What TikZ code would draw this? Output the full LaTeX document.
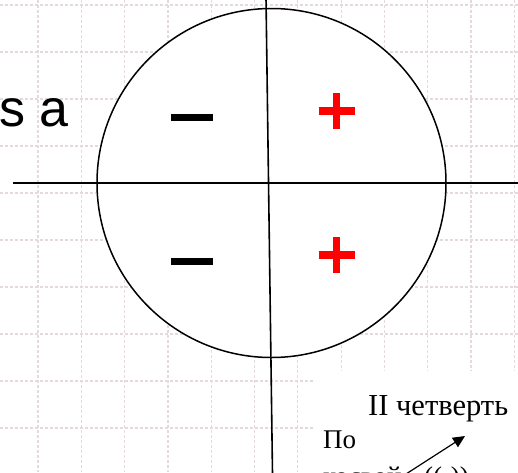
\documentclass[tikz,border=0pt]{standalone}
\usepackage{fontspec}
\setmainfont{Liberation Serif}
\newfontfamily\arialfont{Liberation Sans}
\usepackage{tikz}
\usetikzlibrary{positioning,arrows.meta,calc}

\definecolor{gridpink}{RGB}{228,218,222}

\begin{document}
\begin{tikzpicture}[x=1pt, y=-1pt, >={Triangle[length=12pt,width=11pt]}]
\tikzset{
  gridline/.style={gridpink, line width=1.2pt, dash pattern=on 3pt off 2pt},
  axis/.style={black, line width=1.6pt},
  minusbar/.style={black, line width=7pt},
  plusbar/.style={red, line width=7.5pt},
  ru/.style={inner sep=0pt, anchor=base west, font=\fontsize{27}{32}\selectfont}
}
\path[use as bounding box, clip] (0,0) rectangle (518,472);
\fill[white] (0,0) rectangle (518,472);

% graph paper
\foreach \gx in {38,81.3,...,520} \draw[gridline] (\gx,0) -- (\gx,472);
\foreach \gy in {5,52,...,472} \draw[gridline] (0,\gy) -- (518,\gy);

\node[ru, font=\arialfont\fontsize{52}{60}\selectfont] (sa) at (-1,126) {s a};

% the circle
\node[draw, circle, fill=white, line width=1.5pt, minimum size=349pt, inner sep=0pt] (circ) at (271.5,183) {};

% axes
\coordinate (xl) at (13,183);
\coordinate (xr) at (530,183);
\coordinate (yt) at (266,-2);
\coordinate (yb) at (272.5,474);
\draw[axis, ->] (xl) -- (xr);
\draw[axis] (yt) -- (yb);

% signs
\coordinate (m1) at (192,117.5);
\coordinate (m2) at (192,261);
\coordinate (p1) at (336.5,111);
\coordinate (p2) at (336.5,255);
\foreach \m in {m1,m2}
  \draw[minusbar] ([xshift=-21pt]\m) -- ([xshift=21pt]\m);
\foreach \p in {p1,p2}
  \draw[plusbar] ([xshift=-18pt]\p) -- ([xshift=18pt]\p)
                 ([yshift=-18pt]\p) -- ([yshift=18pt]\p);

% note in the corner
\fill[white] (313,371) rectangle (520,474);
\node[ru, font=\fontsize{30.5}{36}\selectfont] (quart) at (368,415) {II четверть};
\node[ru] (po) at (323,448) {По};
\node[ru, below=37pt of po.base west, anchor=base west] (kos) {косвой};
\node[ru, right=22pt of kos.base east, anchor=base west] (sgn) {((-))};
\coordinate (tail) at (406,474);
\coordinate (tip) at (465,436);
\draw[->, line width=1.2pt] (tail) -- (tip);
\end{tikzpicture}
\end{document}
